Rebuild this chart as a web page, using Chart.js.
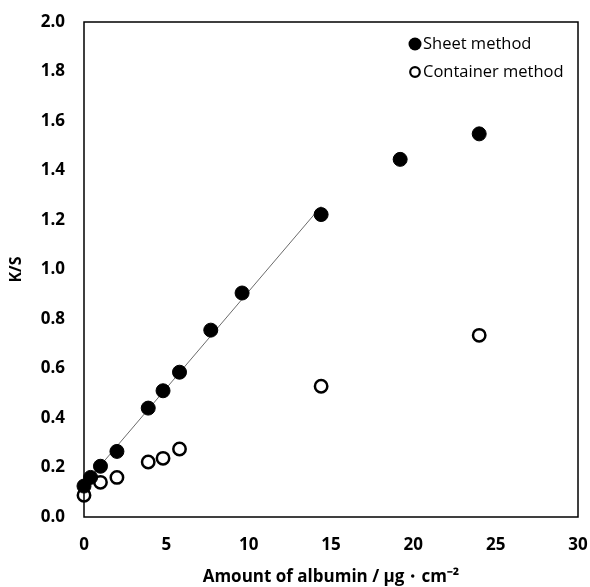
<!DOCTYPE html>
<html>
<head>
<meta charset="utf-8">
<script src="https://cdn.jsdelivr.net/npm/chart.js@4.4.1/dist/chart.umd.min.js"></script>
<style>
  html, body { margin: 0; padding: 0; background: #fff; }
  #wrap { width: 590px; height: 587px; }
</style>
</head>
<body>
<div id="wrap"><canvas id="c" width="590" height="587"></canvas></div>
<script>
const sheetX = [0, 0.4, 1, 2, 3.9, 4.8, 5.8, 7.7, 9.6, 14.4, 19.2, 24];
const sheetY = [0.125, 0.16, 0.205, 0.265, 0.44, 0.51, 0.585, 0.755, 0.905, 1.222, 1.445, 1.548];
const containerX = [0, 1, 2, 3.9, 4.8, 5.8, 14.4, 24];
const containerY = [0.088, 0.14, 0.16, 0.222, 0.237, 0.275, 0.528, 0.734];
const trendX = [0, 14.4];
const trendY = [0.13, 1.255];
const seriesNames = ['Sheet method', 'Container method'];
const xTitle = 'Amount of albumin / μg・cm⁻²';
const yTitle = 'K/S';

const toPts = (xs, ys) => xs.map((x, i) => ({ x: x, y: ys[i] }));

const frameAndLegend = {
  id: 'frameAndLegend',
  afterDatasetsDraw(chart) {
    const { ctx, chartArea: a } = chart;
    ctx.save();
    ctx.strokeStyle = '#000';
    ctx.lineWidth = 1.5;
    ctx.strokeRect(a.left, a.top, a.right - a.left, a.bottom - a.top);
    // legend
    const mx = a.right - 163;
    const y1 = a.top + 22, y2 = a.top + 50;
    ctx.fillStyle = '#000';
    ctx.beginPath(); ctx.arc(mx, y1, 6.5, 0, Math.PI * 2); ctx.fill();
    ctx.lineWidth = 2.2;
    ctx.beginPath(); ctx.arc(mx, y2, 4.8, 0, Math.PI * 2); ctx.stroke();
    ctx.font = '16.5px "Open Sans"';
    ctx.textBaseline = 'middle';
    ctx.textAlign = 'left';
    ctx.fillText(seriesNames[0], mx + 8, y1);
    ctx.fillText(seriesNames[1], mx + 8, y2);
    ctx.restore();
  }
};

new Chart(document.getElementById('c'), {
  type: 'scatter',
  data: {
    datasets: [
      {
        label: seriesNames[0],
        data: toPts(sheetX, sheetY),
        pointRadius: 7,
        pointBackgroundColor: '#000',
        pointBorderColor: '#000',
        pointBorderWidth: 1,
        clip: false,
        order: 1
      },
      {
        label: seriesNames[1],
        data: toPts(containerX, containerY),
        pointRadius: 6.2,
        pointBackgroundColor: '#fff',
        pointBorderColor: '#000',
        pointBorderWidth: 2.5,
        clip: false,
        order: 2
      },
      {
        label: 'fit',
        type: 'line',
        data: toPts(trendX, trendY),
        borderColor: '#6b6b6b',
        borderWidth: 1,
        pointRadius: 0,
        fill: false,
        order: 3
      }
    ]
  },
  options: {
    responsive: false,
    animation: false,
    layout: { padding: { top: 22, right: 12, left: 0, bottom: 0 } },
    plugins: { legend: { display: false }, tooltip: { enabled: false } },
    scales: {
      x: {
        type: 'linear',
        min: 0, max: 30,
        grid: { display: false, drawTicks: false },
        border: { display: false },
        ticks: {
          stepSize: 5,
          padding: 18,
          color: '#000',
          font: { family: 'Open Sans', size: 17, weight: 'bold' }
        },
        title: {
          display: true,
          text: xTitle,
          color: '#000',
          padding: { top: 0, bottom: 0 },
          font: { family: 'Open Sans', size: 17, weight: 'bold' }
        },
        afterFit(s) { s.height = 70; s.paddingLeft = 0; s.paddingRight = 0; }
      },
      y: {
        type: 'linear',
        min: 0, max: 2,
        grid: { display: false, drawTicks: false },
        border: { display: false },
        ticks: {
          stepSize: 0.2,
          padding: 19,
          color: '#000',
          font: { family: 'Open Sans', size: 17, weight: 'bold' },
          callback: v => Number(v).toFixed(1)
        },
        title: {
          display: true,
          text: yTitle,
          color: '#000',
          padding: { top: 7, bottom: 0 },
          font: { family: 'Open Sans', size: 16, weight: 'bold' }
        },
        afterFit(s) { s.width = 84; s.paddingTop = 0; s.paddingBottom = 0; }
      }
    }
  },
  plugins: [frameAndLegend]
});
</script>
</body>
</html>
